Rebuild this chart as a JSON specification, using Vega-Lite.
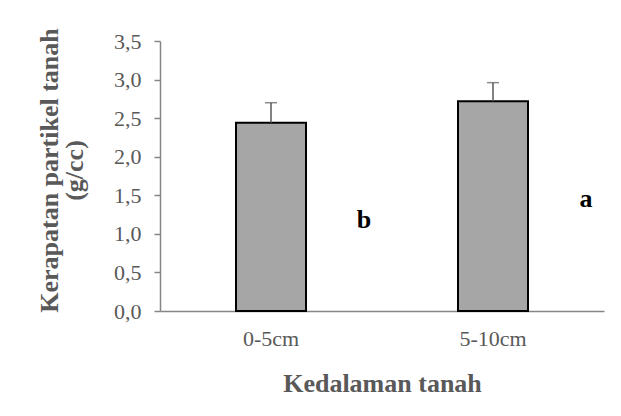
{
  "$schema": "https://vega.github.io/schema/vega-lite/v6.json",
  "width": 444,
  "height": 270,
  "autosize": {"type": "none"},
  "padding": {"left": 160, "top": 41, "right": 17, "bottom": 105},
  "background": "white",
  "config": {
    "view": {"stroke": null},
    "font": "Liberation Serif",
    "axisY": {
      "tickCount": 7,
      "labelOverlap": false,
      "labelFont": "Liberation Serif",
      "labelFontSize": 22,
      "labelColor": "#595959",
      "labelPadding": 13,
      "tickSize": 6,
      "tickColor": "#868686",
      "tickWidth": 1.5,
      "domainColor": "#868686",
      "domainWidth": 1.5,
      "grid": false,
      "titleFont": "Liberation Serif",
      "titleFontSize": 26,
      "titleFontWeight": "bold",
      "titleColor": "#595959",
      "titleLineHeight": 25,
      "titlePadding": 26,
      "titleY": 129
    },
    "axisX": {
      "labelAngle": 0,
      "labelFont": "Liberation Serif",
      "labelFontSize": 22,
      "labelColor": "#595959",
      "labelPadding": 17,
      "ticks": false,
      "domainColor": "#868686",
      "domainWidth": 1.5,
      "titleFont": "Liberation Serif",
      "titleFontSize": 26,
      "titleFontWeight": "bold",
      "titleColor": "#595959",
      "titlePadding": 21
    }
  },
  "data": {
    "values": [
      {"kedalaman": "0-5cm", "nilai": 2.44, "atas": 2.70, "huruf": "b", "posisi_huruf": 1.18},
      {"kedalaman": "5-10cm", "nilai": 2.72, "atas": 2.96, "huruf": "a", "posisi_huruf": 1.45}
    ]
  },
  "encoding": {
    "x": {
      "field": "kedalaman",
      "type": "nominal",
      "sort": null,
      "scale": {"paddingInner": 0, "paddingOuter": 0},
      "title": "Kedalaman tanah"
    }
  },
  "layer": [
    {
      "mark": {"type": "bar", "size": 70, "fill": "#A6A6A6", "stroke": "#000000", "strokeWidth": 2},
      "encoding": {
        "y": {
          "field": "nilai",
          "type": "quantitative",
          "scale": {"domain": [0, 3.5], "nice": false},
          "title": ["Kerapatan partikel tanah", "(g/cc)"],
          "axis": {"labelExpr": "replace(format(datum.value, '.1f'), '.', ',')"}
        }
      }
    },
    {
      "mark": {"type": "rule", "color": "#595959", "strokeWidth": 1.5},
      "encoding": {
        "y": {"field": "nilai", "type": "quantitative"},
        "y2": {"field": "atas"}
      }
    },
    {
      "mark": {"type": "tick", "color": "#595959", "size": 12, "thickness": 1.5, "orient": "horizontal"},
      "encoding": {
        "y": {"field": "atas", "type": "quantitative"}
      }
    },
    {
      "mark": {"type": "text", "dx": 93, "font": "Liberation Serif", "fontSize": 26, "fontWeight": "bold", "color": "#000000", "baseline": "middle", "align": "center"},
      "encoding": {
        "y": {"field": "posisi_huruf", "type": "quantitative"},
        "text": {"field": "huruf"}
      }
    }
  ]
}
